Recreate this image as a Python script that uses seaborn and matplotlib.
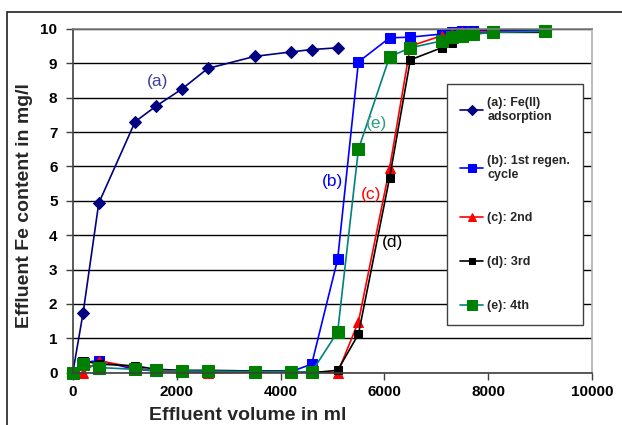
import matplotlib
matplotlib.use("Agg")
import matplotlib.pyplot as plt
import matplotlib.patches as patches
import pandas as pd
import seaborn as sns

# effluent volume (ml) at each sampling point
vol_a = [0, 200, 500, 1200, 1600, 2100, 2600, 3500, 4200, 4600, 5100]
vol = [0, 200, 500, 1200, 1600, 2100, 2600, 3500, 4200, 4600, 5100,
       5500, 6100, 6500, 7100, 7300, 7500, 7700, 8100, 9100]

fe_a = [0, 1.75, 4.93, 7.3, 7.75, 8.25, 8.85, 9.2, 9.33, 9.4, 9.45]
fe_b = [0, 0.3, 0.35, 0.1, 0.05, 0.03, 0.03, 0.03, 0.03, 0.25, 3.3,
        9.04, 9.74, 9.76, 9.85, 9.9, 9.93, 9.95, 9.95, 9.95]
fe_c = [0, 0.0, 0.35, 0.15, 0.05, 0.03, 0.0, 0.02, 0.02, 0.02, 0.0,
        1.48, 5.95, 9.5, 9.8, 9.85, 9.9, 9.9, 9.92, 9.92]
fe_d = [0, 0.35, 0.25, 0.2, 0.1, 0.07, 0.07, 0.05, 0.05, 0.0, 0.07,
        1.12, 5.67, 9.1, 9.45, 9.6, 9.75, 9.85, 9.9, 9.9]
fe_e = [0, 0.25, 0.15, 0.1, 0.07, 0.05, 0.05, 0.03, 0.03, 0.02, 1.19,
        6.5, 9.19, 9.45, 9.65, 9.75, 9.8, 9.85, 9.9, 9.93]

labels = ["(a): Fe(II)\nadsorption", "(b): 1st regen.\ncycle", "(c): 2nd",
          "(d): 3rd", "(e): 4th"]

sns.set_style("white")
plt.rcParams['font.family'] = ['Liberation Sans', 'DejaVu Sans']

fig = plt.figure(figsize=(6.22, 4.25), dpi=100)
ax = fig.add_axes([0.117, 0.123, 0.835, 0.809])

series = [
    (vol_a, fe_a, labels[0], "#000080", "#000080", "D", 6.5),
    (vol, fe_b, labels[1], "#0000ff", "#0000ff", "s", 6.5),
    (vol, fe_c, labels[2], "#ff0000", "#ff0000", "^", 7.5),
    (vol, fe_d, labels[3], "#000000", "#000000", "s", 5.5),
    (vol, fe_e, labels[4], "#008080", "#008000", "s", 8.5),
]

for x, y, lab, lc, mc, mk, ms in series:
    df = pd.DataFrame({"vol": x, "fe": y})
    sns.lineplot(data=df, x="vol", y="fe", ax=ax, label=lab, color=lc,
                 marker=mk, markersize=ms, markerfacecolor=mc,
                 markeredgecolor=mc, linewidth=1.2, clip_on=False,
                 sort=False, estimator=None)

ax.set_xlim(0, 10000)
ax.set_ylim(0, 10)
ax.set_xticks(range(0, 10001, 2000))
ax.set_yticks(range(0, 11))
ax.tick_params(axis="both", labelsize=11, length=5, width=1, direction="out",
               colors="#404040", labelcolor="black", bottom=True, left=True)
ax.tick_params(axis="y", pad=6)
for t in ax.get_xticklabels() + ax.get_yticklabels():
    t.set_fontweight("bold")
ax.yaxis.grid(True, color="black", linewidth=1)
ax.set_axisbelow(True)
for side, c in [("left", "#404040"), ("bottom", "#404040"),
                ("top", "#808080"), ("right", "#b0b0b0")]:
    ax.spines[side].set_color(c)
    ax.spines[side].set_linewidth(1.2)

ax.set_xlabel("Effluent volume in ml", fontsize=14, fontweight="bold")
ax.set_ylabel("Effluent Fe content in mg/l", fontsize=14, fontweight="bold")
ax.xaxis.set_label_coords(0.337, -0.1)
ax.yaxis.set_label_coords(-0.076, 0.485)

ax.text(1640, 8.48, "(a)", color="#4040a0", fontsize=12.5, ha="center", va="center")
ax.text(5010, 5.55, "(b)", color="#0000ff", fontsize=12.5, ha="center", va="center")
ax.text(5750, 5.17, "(c)", color="#ff0000", fontsize=12.5, ha="center", va="center")
ax.text(6150, 3.8, "(d)", color="#000000", fontsize=12.5, ha="center", va="center")
ax.text(5855, 7.26, "(e)", color="#2e9e7e", fontsize=12.5, ha="center", va="center")

leg = ax.legend(loc="upper left", bbox_to_anchor=(0.721, 0.840),
                prop={"weight": "bold", "size": 9},
                frameon=True, fancybox=False, framealpha=1,
                edgecolor="#404040", labelspacing=2.55, handlelength=1.85,
                handletextpad=0.3, borderpad=1.05, markerscale=0.8,
                borderaxespad=0)
leg.get_frame().set_linewidth(1.0)

# outer chart border
fig.patches.append(patches.Rectangle((7.5 / 622, -0.1), 1.2, 1.1 - 12.3 / 425,
                                     transform=fig.transFigure, fill=False,
                                     edgecolor="#202020", linewidth=1.2))

fig.savefig("out.png", dpi=100)
